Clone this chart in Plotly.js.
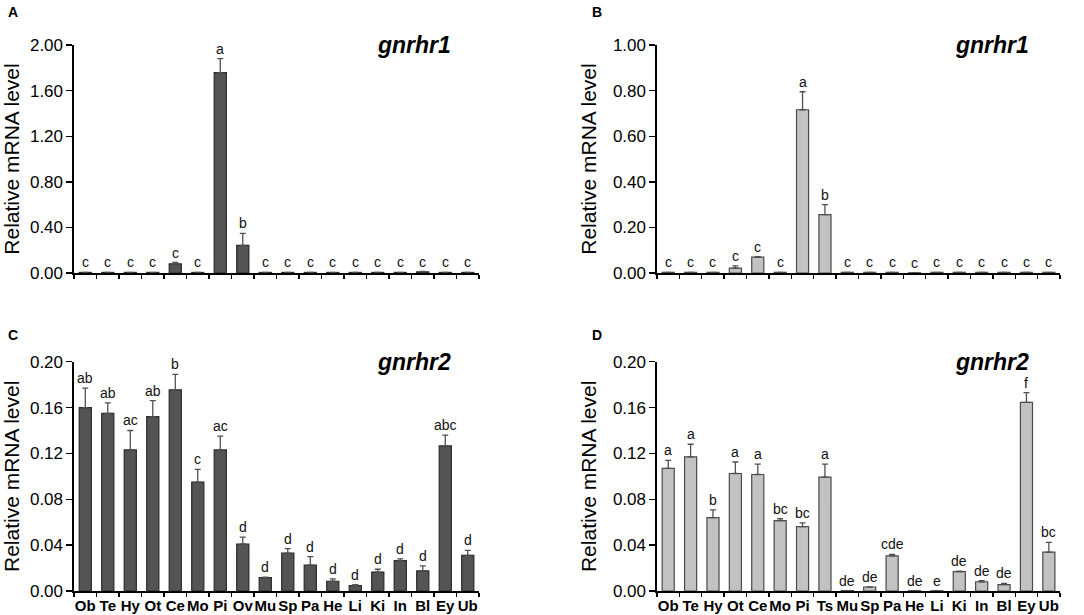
<!DOCTYPE html>
<html>
<head>
<meta charset="utf-8">
<script src="https://cdn.plot.ly/plotly-3.0.1.min.js"></script>
<style>
  html, body { margin: 0; padding: 0; background: #fff; }
  #chart { width: 1084px; height: 615px; }
</style>
</head>
<body>
<div id="chart"></div>
<script>
// tissue names (top-left/bottom-left use Ov, right panels use Ts)
var tissuesOv = ["Ob","Te","Hy","Ot","Ce","Mo","Pi","Ov","Mu","Sp","Pa","He","Li","Ki","In","Bl","Ey","Ub"];
var tissuesTs = ["Ob","Te","Hy","Ot","Ce","Mo","Pi","Ts","Mu","Sp","Pa","He","Li","Ki","In","Bl","Ey","Ub"];

// A: gnrhr1 (dark)
var valA = [0.005,0.005,0.005,0.005,0.08,0.005,1.757,0.243,0.005,0.005,0.005,0.005,0.005,0.005,0.005,0.01,0.005,0.005];
var errA = [0,0,0,0,0.012,0,0.123,0.105,0,0,0,0,0,0,0,0.003,0,0];
var letA = ["c","c","c","c","c","c","a","b","c","c","c","c","c","c","c","c","c","c"];

// B: gnrhr1 (light)
var valB = [0.003,0.003,0.003,0.021,0.07,0.003,0.716,0.256,0.003,0.003,0.003,0.001,0.003,0.003,0.003,0.003,0.003,0.003];
var errB = [0,0,0,0.01,0.002,0,0.079,0.044,0,0,0,0,0,0,0,0,0,0];
var letB = ["c","c","c","c","c","c","a","b","c","c","c","c","c","c","c","c","c","c"];

// C: gnrhr2 (dark)
var valC = [0.160,0.155,0.123,0.152,0.1755,0.095,0.123,0.041,0.0116,0.033,0.0225,0.0085,0.0047,0.0165,0.0265,0.0175,0.1265,0.031];
var errC = [0.017,0.009,0.017,0.014,0.0135,0.011,0.012,0.006,0.0005,0.004,0.0075,0.002,0.0008,0.0025,0.0015,0.0045,0.0095,0.0045];
var letC = ["ab","ab","ac","ab","b","c","ac","d","d","d","d","d","d","d","d","d","abc","d"];

// D: gnrhr2 (light)
var valD = [0.107,0.117,0.064,0.1025,0.1016,0.0614,0.0562,0.0993,0.0004,0.0035,0.0306,0.0003,0.0002,0.0169,0.0081,0.0055,0.1645,0.034];
var errD = [0.007,0.011,0.0067,0.010,0.009,0.0016,0.0032,0.0113,0,0,0.0014,0,0,0.0004,0.0009,0.0012,0.0085,0.0085];
var letD = ["a","a","b","a","a","bc","bc","a","de","de","cde","de","e","de","de","de","f","bc"];

var DARK = "#545454", LIGHT = "#c2c2c2";
var FONT = "Arial, 'Liberation Sans', sans-serif";

function barTrace(cats, vals, errs, fill, edge, ax) {
  return {
    type: "bar",
    x: cats, y: vals,
    xaxis: "x" + ax, yaxis: "y" + ax,
    marker: { color: fill, line: { color: edge, width: 1.2 } },
    error_y: {
      type: "data", array: errs, arrayminus: errs.map(function(){ return 0; }),
      symmetric: false, color: "#505050", thickness: 1.3, width: 3
    },
    hoverinfo: "skip", showlegend: false
  };
}

function letterNotes(cats, vals, errs, letters, ax) {
  return letters.map(function(t, i) {
    return {
      xref: "x" + ax, yref: "y" + ax,
      x: cats[i], y: vals[i] + errs[i],
      text: t, showarrow: false, yanchor: "bottom", yshift: 0,
      font: { family: FONT, size: 14, color: "#111" }
    };
  });
}

var data = [
  barTrace(tissuesOv, valA, errA, DARK, "#2a2a2a", ""),
  barTrace(tissuesTs, valB, errB, LIGHT, "#4a4a4a", "2"),
  barTrace(tissuesOv, valC, errC, DARK, "#2a2a2a", "3"),
  barTrace(tissuesTs, valD, errD, LIGHT, "#4a4a4a", "4")
];

function xAxis(domain, anchor, labels) {
  return {
    domain: domain, anchor: anchor, type: "category",
    range: [-0.5, 17.5], tickson: "boundaries",
    showline: true, linecolor: "#000", linewidth: 1.6, mirror: false,
    ticks: "outside", ticklen: 4, tickwidth: 1.4, tickcolor: "#000",
    showgrid: false, zeroline: false, fixedrange: true,
    showticklabels: labels, tickangle: 0,
    tickfont: { family: FONT, size: 15, color: "#000", weight: "bold" }
  };
}

function yAxis(domain, anchor, max, step) {
  return {
    domain: domain, anchor: anchor,
    range: [0, max], dtick: step, tick0: 0, tickformat: ".2f",
    showline: true, linecolor: "#000", linewidth: 1.6,
    ticks: "outside", ticklen: 6, tickwidth: 1.4, tickcolor: "#000",
    showgrid: false, zeroline: false, fixedrange: true,
    tickfont: { family: FONT, size: 17, color: "#000" },
    title: { text: "Relative mRNA level", standoff: 10,
             font: { family: FONT, size: 21, color: "#000" } }
  };
}

var xL = [0.0683, 0.4419], xR = [0.6061, 0.9779];
var yT = [0.5561, 0.9268], yB = [0.039, 0.4119];

var annotations = []
  .concat(letterNotes(tissuesOv, valA, errA, letA, ""))
  .concat(letterNotes(tissuesTs, valB, errB, letB, "2"))
  .concat(letterNotes(tissuesOv, valC, errC, letC, "3"))
  .concat(letterNotes(tissuesTs, valD, errD, letD, "4"));

// gene names
[["x", "y", "gnrhr1", 0.84], ["x2", "y2", "gnrhr1", 0.83],
 ["x3", "y3", "gnrhr2", 0.84], ["x4", "y4", "gnrhr2", 0.83]].forEach(function(g) {
  annotations.push({
    xref: g[0] + " domain", yref: g[1] + " domain", x: g[3], y: 1.0,
    text: "<b><i>" + g[2] + "</i></b>", showarrow: false,
    xanchor: "center", yanchor: "middle",
    font: { family: FONT, size: 23, color: "#000" }
  });
});

// panel letters
[["A", 0.012, 0.98], ["B", 0.551, 0.98], ["C", 0.012, 0.455], ["D", 0.551, 0.455]].forEach(function(p) {
  annotations.push({
    xref: "paper", yref: "paper", x: p[1], y: p[2],
    text: "<b>" + p[0] + "</b>", showarrow: false,
    xanchor: "center", yanchor: "middle",
    font: { family: FONT, size: 14, color: "#000" }
  });
});

var layout = {
  width: 1084, height: 615,
  margin: { l: 0, r: 0, t: 0, b: 0 },
  paper_bgcolor: "#fff", plot_bgcolor: "#fff",
  bargap: 0.46, showlegend: false,
  xaxis: xAxis(xL, "y", false),
  yaxis: yAxis(yT, "x", 2.0, 0.4),
  xaxis2: xAxis(xR, "y2", false),
  yaxis2: yAxis(yT, "x2", 1.0, 0.2),
  xaxis3: xAxis(xL, "y3", true),
  yaxis3: yAxis(yB, "x3", 0.2, 0.04),
  xaxis4: xAxis(xR, "y4", true),
  yaxis4: yAxis(yB, "x4", 0.2, 0.04),
  annotations: annotations
};

Plotly.newPlot("chart", data, layout, { staticPlot: true, displayModeBar: false });
</script>
</body>
</html>
